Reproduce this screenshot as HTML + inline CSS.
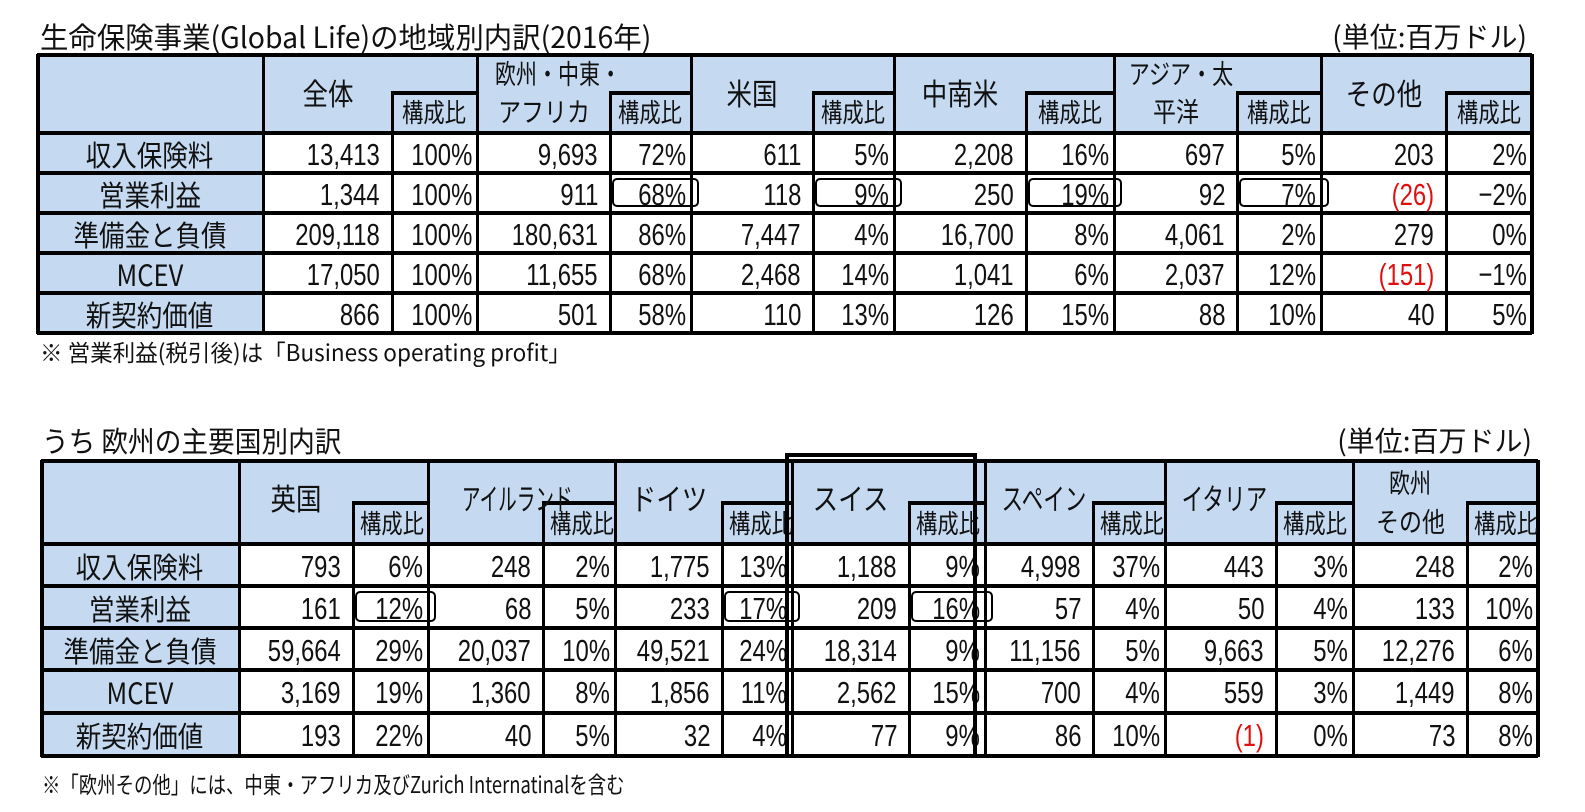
<!DOCTYPE html>
<html><head><meta charset="utf-8">
<style>
body{margin:0;width:1585px;height:812px;background:#fff;position:relative;overflow:hidden;font-family:"Liberation Sans","Noto Sans CJK JP",sans-serif;color:#111}
.a{position:absolute;box-sizing:border-box}
.t{position:absolute;white-space:nowrap;line-height:1}
.t span{display:inline-block;transform-origin:center center}
.num span{transform:scaleX(.77);transform-origin:right center}
.jp{font-family:"Noto Sans CJK JP",sans-serif}
</style></head><body>
<div id="root"></div>
<script>
// ---- data: table 1 ----
const t1Groups=[["全体"],["欧州・中東・","アフリカ"],["米国"],["中南米"],["アジア・太","平洋"],["その他"]];
const t1Rows=["収入保険料","営業利益","準備金と負債","MCEV","新契約価値"];
const t1Vals=[["13,413","9,693","611","2,208","697","203"],["1,344","911","118","250","92","(26)"],["209,118","180,631","7,447","16,700","4,061","279"],["17,050","11,655","2,468","1,041","2,037","(151)"],["866","501","110","126","88","40"]];
const t1Pcts=[["100%","72%","5%","16%","5%","2%"],["100%","68%","9%","19%","7%","-2%"],["100%","86%","4%","8%","2%","0%"],["100%","68%","14%","6%","12%","-1%"],["100%","58%","13%","15%","10%","5%"]];
const t1Boxed=[[1,1],[1,2],[1,3],[1,4]];
// ---- data: table 2 ----
const t2Groups=[["英国"],["アイルランド"],["ドイツ"],["スイス"],["スペイン"],["イタリア"],["欧州","その他"]];
const t2Rows=["収入保険料","営業利益","準備金と負債","MCEV","新契約価値"];
const t2Vals=[["793","248","1,775","1,188","4,998","443","248"],["161","68","233","209","57","50","133"],["59,664","20,037","49,521","18,314","11,156","9,663","12,276"],["3,169","1,360","1,856","2,562","700","559","1,449"],["193","40","32","77","86","(1)","73"]];
const t2Pcts=[["6%","2%","13%","9%","37%","3%","2%"],["12%","5%","17%","16%","4%","4%","10%"],["29%","10%","24%","9%","5%","5%","6%"],["19%","8%","11%","15%","4%","3%","8%"],["22%","5%","4%","9%","10%","0%","8%"]];
const t2Boxed=[[1,0],[1,2],[1,3]];

const root=document.getElementById('root');
function box(x,y,w,h,css,name){const d=document.createElement('div');d.className='a';d.style.cssText=`left:${x}px;top:${y}px;width:${w}px;height:${h}px;`+css;


root.appendChild(d);return d;}
function txt(s,x,y,w,align,size,cls,name,color,sx){const d=document.createElement('div');d.className='t '+(cls||'');
d.style.cssText=`left:${x}px;top:${y-size/2}px;width:${w}px;text-align:${align};font-size:${size}px;height:${size}px;`+(color?`color:${color};`:'');
const sp=document.createElement('span');sp.textContent=s;if(sx)sp.style.transform=`scaleX(${sx})`;if(align==='right')sp.style.transformOrigin='right center';if(align==='left')sp.style.transformOrigin='left center';d.appendChild(sp);


root.appendChild(d);return d;}

function table(cfg){
  const {L,R,labelR,gx,sx,top,subTop,hdrB,rowY,groups,rows,vals,pcts,boxed,pfx}=cfg;
  const B=rowY[rowY.length-1];
  box(L,top,R-L,hdrB-top,'background:#c5d9f1','header-band');
  box(L,hdrB,labelR-L,B-hdrB,'background:#c5d9f1','row-label-column');
  const lw=3;
  [top,...rowY].forEach((y,i)=>box(L,y-1.5,R-L,4,'background:#000',pfx+'-hline'));
  box(L-1.5,top,4,B-top+2,'background:#000',pfx+'-left-border');
  box(R-2,top,4,B-top+2,'background:#000',pfx+'-right-border');
  box(labelR-1.5,top,lw,B-top,'background:#000',pfx+'-vline');
  gx.forEach((x,i)=>{
    if(i>0) box(x-1.5,top,lw,B-top,'background:#000',pfx+'-vline');
    box(sx[i]-1.5,subTop,lw,B-subTop,'background:#000',pfx+'-sub-vline');
    const ge=i<gx.length-1?gx[i+1]:R;
    box(sx[i]-1.5,subTop-1.5,ge-sx[i]+1.5,4,'background:#000',pfx+'-sub-top');
    const g=groups[i];
    if(g.length===1){const s=g[0].length>4?.62:(g[0].length>3?.72:.85);
      txt(g[0],x,cfg.hdrMid,sx[i]-x,'center',30,'jp',pfx+'-group-header',null,s);}
    else{txt(g[0],x,cfg.hdr2a,sx[i]-x,'center',27,'jp',pfx+'-group-header',null,.78);txt(g[1],x,cfg.hdr2b,sx[i]-x,'center',27,'jp',pfx+'-group-header',null,.85);}
    txt('構成比',sx[i],hdrB-20,ge-sx[i],'center',26,'jp',pfx+'-ratio-header',null,.82);
  });
  rows.forEach((r,j)=>{
    const cy=(rowY[j]+rowY[j+1])/2+2;
    txt(r,L,cy,labelR-L,'center',29,'jp',pfx+'-row-label',null,.88);
    gx.forEach((x,i)=>{
      const ge=i<gx.length-1?gx[i+1]:R;
      const v=vals[j][i];
      txt(v,x,cy,sx[i]-x-12,'right',31,'num',pfx+'-value',v.startsWith('(')?'#e01010':null);
      txt(pcts[j][i].replace('-','−'),sx[i],cy,ge-sx[i]-5,'right',31,'num',pfx+'-ratio');
    });
  });
  boxed.forEach(([j,i])=>{const ge=i<gx.length-1?gx[i+1]:R;
    box(sx[i]+2,rowY[j]+6,ge-sx[i]+6,rowY[j+1]-rowY[j]-11,'border:2.5px solid #000;border-radius:5px',pfx+'-highlight-box');});
}
txt('生命保険事業(Global Life)の地域別内訳(2016年)',40,36,750,'left',29,'jp','title-1',null,.98);
txt('(単位:百万ドル)',1200,36,327,'right',28,'jp','unit-1',null,1.0);
table({pfx:'t1',L:37,R:1532,labelR:263,gx:[263,477,691,894,1114,1321],sx:[392,610,813,1026,1237,1446],top:54,subTop:92,hdrB:132,rowY:[132,172,212,252,292,332],
 groups:t1Groups,rows:t1Rows,vals:t1Vals,pcts:t1Pcts,boxed:t1Boxed,hdrMid:92,hdr2a:72,hdr2b:110});
txt('※ 営業利益(税引後)は「Business operating profit」',40,351,700,'left',23,'jp','footnote-1',null,.98);

txt('うち  欧州の主要国別内訳',42,440,500,'left',29,'jp','title-2',null,.92);
txt('(単位:百万ドル)',1200,440,332,'right',28,'jp','unit-2',null,1.0);
table({pfx:'t2',L:41,R:1538,labelR:239,gx:[239,428,615,792,985,1165,1353],sx:[353,543,722,909,1093,1276,1467],top:460,subTop:502,hdrB:543,rowY:[543,585,627,669,712,755],
 groups:t2Groups,rows:t2Rows,vals:t2Vals,pcts:t2Pcts,boxed:t2Boxed,hdrMid:497,hdr2a:481,hdr2b:520});
box(785,453,192,305,'border:4px solid #000','swiss-highlight');
txt('※「欧州その他」には、中東・アフリカ及びZurich Internatinalを含む',42,783,800,'left',23,'jp','footnote-2',null,.8);
</script>
</body></html>
